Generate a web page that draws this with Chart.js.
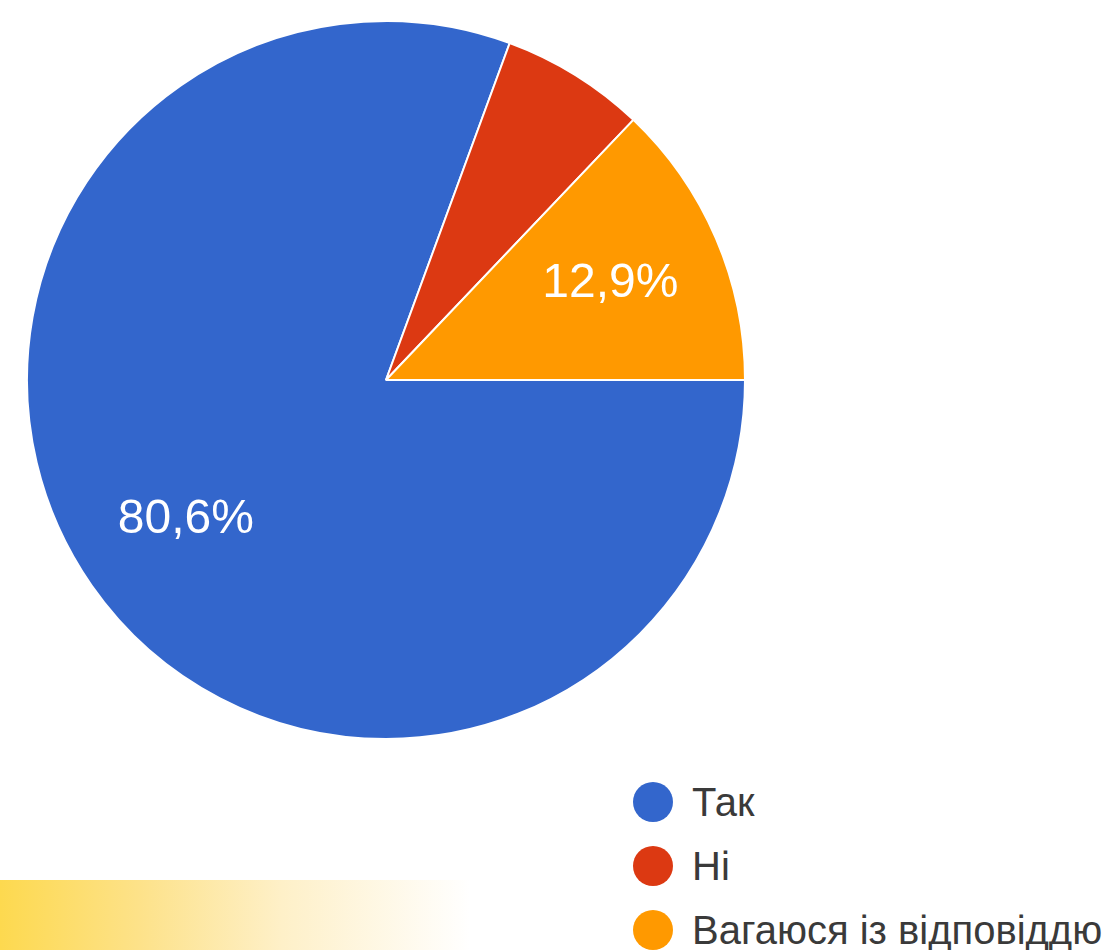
<!DOCTYPE html>
<html>
<head>
<meta charset="utf-8">
<script src="https://cdn.jsdelivr.net/npm/chart.js@4"></script>
<style>
  html, body { margin: 0; padding: 0; width: 1111px; height: 950px; overflow: hidden; background: #ffffff; }
  #band { position: absolute; left: 0; top: 880px; width: 470px; height: 70px;
          background: linear-gradient(to right, #fdd94f 0%, #fde28a 30%, #fef0c8 60%, #ffffff 100%); }
  #wrap { position: absolute; left: 26px; top: 20px; width: 720px; height: 720px; }
  #legend { position: absolute; left: 633px; top: 770px; margin: 0; padding: 0; list-style: none;
            font-family: "Liberation Sans", Arial, sans-serif; font-size: 40px; color: #3a3a3a; white-space: nowrap; }
  #legend li { height: 64px; display: flex; align-items: center; margin: 0; }
  #legend .dot { width: 40px; height: 40px; border-radius: 50%; display: inline-block; margin-right: 19px; flex: none; }
</style>
</head>
<body>
<div id="band"></div>
<div id="wrap"><canvas id="c"></canvas></div>
<ul id="legend"></ul>
<script>
const categories = ["Так", "Ні", "Вагаюся із відповіддю"];
const values = [80.6, 6.5, 12.9];
const valueLabels = ["80,6%", "6,5%", "12,9%"];
const colors = ["#3366cc", "#dc3912", "#ff9900"];

const sliceLabels = {
  id: 'sliceLabels',
  afterDatasetsDraw(chart) {
    const ctx = chart.ctx;
    const meta = chart.getDatasetMeta(0);
    ctx.save();
    ctx.font = '48px "Liberation Sans", Arial, sans-serif';
    ctx.fillStyle = '#ffffff';
    ctx.textAlign = 'center';
    ctx.textBaseline = 'middle';
    meta.data.forEach((arc, i) => {
      if (values[i] < 10) return;
      const p = arc.getProps(['x', 'y', 'startAngle', 'endAngle', 'outerRadius'], true);
      const mid = (p.startAngle + p.endAngle) / 2;
      const r = p.outerRadius * 0.68;
      ctx.fillText(valueLabels[i], p.x + Math.cos(mid) * r, p.y + Math.sin(mid) * r);
    });
    ctx.restore();
  }
};

new Chart(document.getElementById('c'), {
  type: 'pie',
  data: {
    labels: categories,
    datasets: [{
      data: values,
      backgroundColor: colors,
      borderColor: '#ffffff',
      borderWidth: 2
    }]
  },
  options: {
    responsive: true,
    maintainAspectRatio: false,
    animation: false,
    rotation: 90,
    layout: { padding: 0 },
    plugins: { legend: { display: false }, tooltip: { enabled: false } }
  },
  plugins: [sliceLabels]
});

const ul = document.getElementById('legend');
categories.forEach((c, i) => {
  const li = document.createElement('li');
  const dot = document.createElement('span');
  dot.className = 'dot';
  dot.style.background = colors[i];
  li.appendChild(dot);
  li.appendChild(document.createTextNode(c));
  ul.appendChild(li);
});
</script>
</body>
</html>
